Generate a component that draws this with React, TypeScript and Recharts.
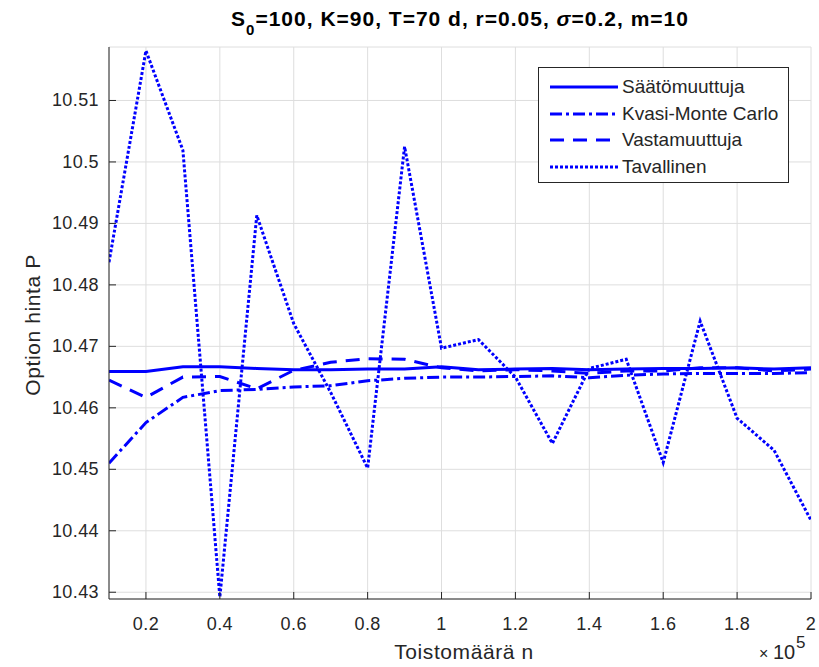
import { LineChart, Line, XAxis, YAxis, CartesianGrid } from "recharts";

// toistomäärä n (×10^5)
const nValues = [0.1, 0.2, 0.3, 0.4, 0.5, 0.6, 0.7, 0.8, 0.9, 1.0, 1.1, 1.2, 1.3, 1.4, 1.5, 1.6, 1.7, 1.8, 1.9, 2.0];

const saatomuuttuja = [
  10.4659, 10.4659, 10.4667, 10.4667, 10.4664, 10.4662, 10.4662, 10.4663, 10.4663, 10.4667,
  10.4662, 10.4663, 10.4664, 10.4662, 10.4663, 10.4664, 10.4664, 10.4665, 10.4663, 10.4665,
];
const kvasiMonteCarlo = [
  10.451, 10.4576, 10.4617, 10.4628, 10.463, 10.4634, 10.4636, 10.4644, 10.4648, 10.465,
  10.465, 10.4651, 10.4652, 10.4649, 10.4653, 10.4655, 10.4656, 10.4656, 10.4656, 10.4657,
];
const vastamuuttuja = [
  10.4645, 10.4617, 10.465, 10.4651, 10.4631, 10.4661, 10.4674, 10.468, 10.4679, 10.4665,
  10.466, 10.4662, 10.466, 10.4656, 10.466, 10.466, 10.4665, 10.4665, 10.466, 10.4663,
];
const tavallinen = [
  10.4837, 10.5181, 10.5019, 10.4292, 10.4913, 10.4737, 10.4625, 10.4502, 10.5025, 10.4697,
  10.4711, 10.465, 10.4542, 10.4664, 10.4679, 10.4511, 10.4741, 10.4583, 10.4531, 10.4417,
];

const xTicks = [0.2, 0.4, 0.6, 0.8, 1, 1.2, 1.4, 1.6, 1.8, 2];
const yTicks = [10.43, 10.44, 10.45, 10.46, 10.47, 10.48, 10.49, 10.5, 10.51];

const data = nValues.map((n, i) => ({
  n,
  saato: saatomuuttuja[i],
  kvasi: kvasiMonteCarlo[i],
  vasta: vastamuuttuja[i],
  tavallinen: tavallinen[i],
}));

const BLUE = "#0000ff";
const AXIS = "#262626";
const FONT = "'Liberation Sans', Arial, sans-serif";

const series = [
  { key: "saato", name: "Säätömuuttuja", dash: undefined as string | undefined },
  { key: "kvasi", name: "Kvasi-Monte Carlo", dash: "12 4 3 4" },
  { key: "vasta", name: "Vastamuuttuja", dash: "14 9" },
  { key: "tavallinen", name: "Tavallinen", dash: "3 2" },
];

function XTick({ x, y, payload }: any) {
  return (
    <g>
      <line x1={x} y1={y} x2={x} y2={y - 7} stroke={AXIS} />
      <text x={x} y={y + 31} textAnchor="middle" fill={AXIS} fontSize={18} letterSpacing={0.4} fontFamily={FONT}>
        {String(payload.value)}
      </text>
    </g>
  );
}

function YTick({ x, y, payload }: any) {
  return (
    <g>
      <line x1={x} y1={y} x2={x + 7} y2={y} stroke={AXIS} />
      <text x={x - 10} y={y + 6} textAnchor="end" fill={AXIS} fontSize={18} letterSpacing={0.4} fontFamily={FONT}>
        {String(payload.value)}
      </text>
    </g>
  );
}

function XLabel({ viewBox }: any) {
  const { x, y, width } = viewBox;
  return (
    <g fontFamily={FONT} fill={AXIS}>
      <text x={x + width / 2 + 4} y={y + 60} textAnchor="middle" fontSize={21} letterSpacing={0.6}>
        Toistomäärä n
      </text>
      <text x={x + width - 52} y={y + 60} textAnchor="start" fontSize={16}>
        ×
      </text>
      <text x={x + width - 38} y={y + 60} textAnchor="start" fontSize={20}>
        10
      </text>
      <text x={x + width - 15} y={y + 49} textAnchor="start" fontSize={17}>
        5
      </text>
    </g>
  );
}

function YLabel({ viewBox }: any) {
  const { y, height } = viewBox;
  const cx = 32;
  const cy = y + height / 2 + 2;
  return (
    <text x={cx} y={cy} transform={`rotate(-90 ${cx} ${cy})`} textAnchor="middle" dominantBaseline="central"
      fontSize={21} letterSpacing={0.6} fontFamily={FONT} fill={AXIS}>
      Option hinta P
    </text>
  );
}

function LegendBox() {
  return (
    <div style={{ position: "absolute", left: 538, top: 67, width: 251, height: 116, border: "1.5px solid #262626", background: "#fff", boxSizing: "border-box", paddingTop: 6, fontFamily: FONT }}>
      {series.map((s) => (
        <div key={s.key} style={{ display: "flex", alignItems: "center", height: 26.5 }}>
          <svg width={70} height={10} style={{ marginLeft: 10 }}>
            <line x1={1} y1={5} x2={69} y2={5} stroke={BLUE} strokeWidth={3} strokeDasharray={s.dash} />
          </svg>
          <span style={{ fontSize: 19, color: AXIS, marginLeft: 3 }}>{s.name}</span>
        </div>
      ))}
    </div>
  );
}

export default function App() {
  return (
    <div style={{ position: "absolute", left: 0, top: 0, width: 819, height: 667, background: "#fff" }}>
      <div style={{ position: "absolute", left: 109, width: 702, top: 6, lineHeight: "25px", textAlign: "center", fontFamily: FONT, fontWeight: "bold", fontSize: 21, letterSpacing: 1, color: "#000" }}>
        S<span style={{ fontSize: 15, position: "relative", top: 9 }}>0</span>=100, K=90, T=70 d, r=0.05, <i>σ</i>=0.2, m=10
      </div>
      <LineChart width={819} height={667} data={data} margin={{ top: 47, right: 8, bottom: 0, left: 0 }}>
        <CartesianGrid stroke="#dedede" strokeWidth={1} />
        <XAxis
          dataKey="n"
          type="number"
          domain={[0.1, 2]}
          ticks={xTicks}
          height={68}
          tickSize={0}
          tickMargin={0}
          tick={<XTick />}
          stroke={AXIS}
          allowDataOverflow
          label={{ content: XLabel }}
        />
        <YAxis
          type="number"
          domain={[10.4289, 10.5187]}
          ticks={yTicks}
          width={109}
          tickSize={0}
          tickMargin={0}
          tick={<YTick />}
          stroke={AXIS}
          allowDataOverflow
          label={{ content: YLabel }}
        />
        {series.map((s) => (
          <Line
            key={s.key}
            dataKey={s.key}
            name={s.name}
            type="linear"
            stroke={BLUE}
            strokeWidth={3}
            strokeDasharray={s.dash}
            dot={false}
            activeDot={false}
            isAnimationActive={false}
          />
        ))}
      </LineChart>
      <LegendBox />
    </div>
  );
}
